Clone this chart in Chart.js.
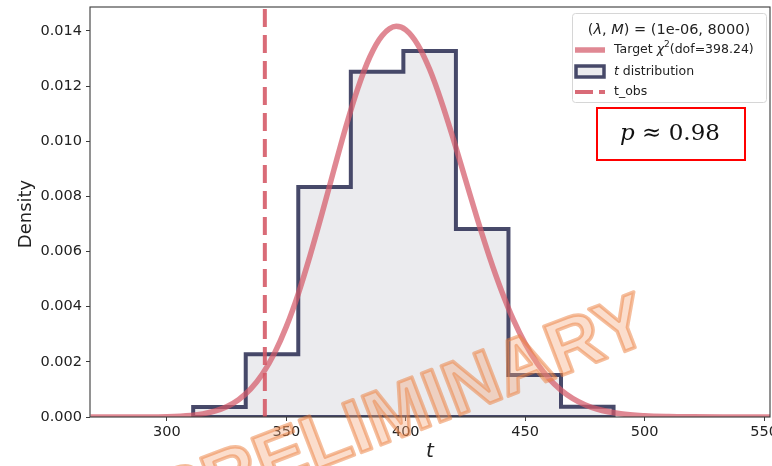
<!DOCTYPE html>
<html>
<head>
<meta charset="utf-8">
<script src="https://cdn.jsdelivr.net/npm/chart.js@4.4.1/dist/chart.umd.min.js"></script>
<style>
  html, body { margin: 0; padding: 0; background: #fff; }
  #wrap { width: 772px; height: 466px; }
</style>
</head>
<body>
<div id="wrap"><canvas id="chart" width="772" height="466"></canvas></div>
<script>
// histogram of t (density)
const binEdges = [311, 333, 355, 377, 399, 421, 443, 465, 487];
const binDensity = [0.00036, 0.00228, 0.00834, 0.01252, 0.01327, 0.00682, 0.00152, 0.00037];

// target chi2 curve, sampled by eye along the line
const curveT = [268, 280, 290, 300, 310, 315, 320, 325, 330, 335,
  340, 345, 350, 355, 360, 365, 370, 375, 380, 385,
  390, 396, 400, 405, 410, 415, 420, 425, 430, 435,
  440, 445, 450, 455, 460, 465, 470, 475, 480, 490,
  500, 510, 520, 535, 553];
const curveDensity = [0, 0.0000003, 0.000002, 0.000013, 0.000058, 0.000112, 0.000209, 0.00037, 0.000626, 0.001009,
  0.001559, 0.002308, 0.003278, 0.004469, 0.00587, 0.007395, 0.00899, 0.010548, 0.01194, 0.013066,
  0.01382, 0.01417, 0.01404, 0.013508, 0.01261, 0.011424, 0.01006, 0.008613, 0.00717, 0.005817,
  0.0046, 0.003538, 0.00266, 0.001948, 0.00139, 0.000974, 0.000666, 0.000445, 0.00029, 0.000116,
  0.000043, 0.0000146, 0.0000046, 0.0000008, 0];

const tObs = 341;
const pValue = '0.98';

const xTicks = [300, 350, 400, 450, 500, 550];
const yTicks = [0, 0.002, 0.004, 0.006, 0.008, 0.010, 0.012, 0.014];
const xLim = [267.8, 552.5];
const yLim = [0, 0.01487];

const RED = 'rgba(212,90,106,0.72)';
const RED_DASH = 'rgba(212,86,100,0.88)';
const NAVY = 'rgba(40,42,80,0.85)';
const HIST_FILL = '#ebebee';
const FONT = '"DejaVu Sans", sans-serif';

// step outline of the histogram (open: used for the fill)
const histStep = [{ x: binEdges[0], y: 0 }];
binDensity.forEach((h, i) => {
  histStep.push({ x: binEdges[i], y: h }, { x: binEdges[i + 1], y: h });
});
histStep.push({ x: binEdges[binEdges.length - 1], y: 0 });
// closed along the bottom for the edge line
const histEdge = histStep.concat([{ x: binEdges[0], y: 0 }]);

const curvePoints = curveT.map((t, i) => ({ x: t, y: curveDensity[i] }));
const obsLine = [{ x: tObs, y: yLim[0] }, { x: tObs, y: yLim[1] }];

// draw a run of text pieces with their own fonts
function drawParts(ctx, parts, x, y, align) {
  let total = 0;
  parts.forEach(p => { ctx.font = p.font; total += ctx.measureText(p.t).width; });
  let cx = align === 'center' ? x - total / 2 : x;
  ctx.textAlign = 'left';
  parts.forEach(p => {
    ctx.font = p.font;
    ctx.fillText(p.t, cx, y + (p.dy || 0));
    cx += ctx.measureText(p.t).width;
  });
}

const frame = {
  id: 'frame',
  afterDatasetsDraw(chart) {
    const { ctx, chartArea: a } = chart;
    ctx.save();
    ctx.strokeStyle = '#3a3a3a';
    ctx.lineWidth = 1.1;
    ctx.strokeRect(a.left, a.top, a.right - a.left, a.bottom - a.top);
    ctx.restore();
  },
  afterDraw(chart) {
    const { ctx } = chart;
    ctx.save();
    ctx.fillStyle = '#222';
    ctx.textBaseline = 'middle';

    // axis titles
    ctx.save();
    ctx.translate(26, 214);
    ctx.rotate(-Math.PI / 2);
    ctx.font = '18px ' + FONT;
    ctx.textAlign = 'center';
    ctx.fillText('Density', 0, 0);
    ctx.restore();
    ctx.font = 'italic 20px ' + FONT;
    ctx.textAlign = 'center';
    ctx.fillText('t', 430, 452);

    // legend
    ctx.beginPath();
    ctx.roundRect(572.5, 13.5, 194, 89, 3);
    ctx.fillStyle = 'rgba(255,255,255,0.85)';
    ctx.fill();
    ctx.strokeStyle = '#d6d6d6';
    ctx.lineWidth = 1;
    ctx.stroke();

    ctx.fillStyle = '#222';
    const n = '14.5px ' + FONT, it = 'italic 14.5px ' + FONT;
    drawParts(ctx, [
      { t: '(', font: n }, { t: 'λ', font: it }, { t: ', ', font: n },
      { t: 'M', font: it }, { t: ') = (1e-06, 8000)', font: n }
    ], 669, 30, 'center');

    ctx.strokeStyle = RED;
    ctx.lineWidth = 5.5;
    ctx.beginPath(); ctx.moveTo(575, 50); ctx.lineTo(605, 50); ctx.stroke();
    const s = '12.5px ' + FONT, si = 'italic 12.5px ' + FONT;
    drawParts(ctx, [
      { t: 'Target ', font: s }, { t: 'χ', font: si },
      { t: '2', font: '9px ' + FONT, dy: -5 }, { t: '(dof=398.24)', font: s }
    ], 614, 50, 'left');

    ctx.fillStyle = HIST_FILL;
    ctx.fillRect(576, 66, 28, 11);
    ctx.strokeStyle = NAVY;
    ctx.lineWidth = 3.5;
    ctx.strokeRect(576, 66, 28, 11);
    ctx.fillStyle = '#222';
    drawParts(ctx, [{ t: 't', font: si }, { t: ' distribution', font: s }], 614, 72, 'left');

    ctx.strokeStyle = RED_DASH;
    ctx.lineWidth = 4;
    ctx.setLineDash([18, 6]);
    ctx.beginPath(); ctx.moveTo(575, 92); ctx.lineTo(605, 92); ctx.stroke();
    ctx.setLineDash([]);
    drawParts(ctx, [{ t: 't_obs', font: s }], 614, 92, 'left');

    // p-value box
    ctx.fillStyle = '#fff';
    ctx.fillRect(597, 108, 148, 52);
    ctx.strokeStyle = '#ff0000';
    ctx.lineWidth = 2;
    ctx.strokeRect(597, 108, 148, 52);
    ctx.fillStyle = '#111';
    drawParts(ctx, [
      { t: 'p', font: 'italic 23px "DejaVu Serif", serif' },
      { t: ' ≈ ' + pValue, font: '23px "DejaVu Serif", serif' }
    ], 670, 134, 'center');

    // watermark
    ctx.translate(403, 414);
    ctx.rotate(-21 * Math.PI / 180);
    ctx.font = 'bold 76px "Liberation Sans", sans-serif';
    ctx.textAlign = 'center';
    ctx.lineJoin = 'round';
    ctx.fillStyle = 'rgba(245,165,120,0.38)';
    ctx.fillText('PRELIMINARY', 0, 0);
    ctx.lineWidth = 3.5;
    ctx.strokeStyle = 'rgba(236,125,60,0.5)';
    ctx.strokeText('PRELIMINARY', 0, 0);
    ctx.restore();
  }
};

new Chart(document.getElementById('chart'), {
  type: 'scatter',
  data: {
    datasets: [
      {
        label: 't_obs',
        data: obsLine,
        showLine: true,
        borderColor: RED_DASH,
        borderWidth: 4,
        borderDash: [18, 8],
        pointRadius: 0,
        order: 0
      },
      {
        label: 'Target chi2',
        data: curvePoints,
        showLine: true,
        borderColor: RED,
        borderWidth: 5.5,
        cubicInterpolationMode: 'monotone',
        pointRadius: 0,
        order: 1
      },
      {
        label: 't distribution',
        data: histEdge,
        showLine: true,
        borderColor: NAVY,
        borderWidth: 4,
        borderJoinStyle: 'miter',
        fill: false,
        tension: 0,
        pointRadius: 0,
        order: 2
      },
      {
        label: 'hist fill',
        data: histStep,
        showLine: true,
        borderWidth: 0,
        borderColor: 'rgba(0,0,0,0)',
        backgroundColor: HIST_FILL,
        fill: 'origin',
        tension: 0,
        pointRadius: 0,
        order: 3
      }
    ]
  },
  options: {
    responsive: false,
    animation: false,
    devicePixelRatio: 1,
    layout: { padding: { top: 7, right: 2, left: 0, bottom: 0 } },
    plugins: { legend: { display: false }, tooltip: { enabled: false } },
    scales: {
      x: {
        type: 'linear',
        min: xLim[0],
        max: xLim[1],
        afterBuildTicks: s => { s.ticks = xTicks.map(v => ({ value: v })); },
        afterFit: s => { s.height = 49; s.paddingLeft = 0; s.paddingRight = 0; },
        border: { display: false },
        grid: { drawOnChartArea: false, tickLength: 4, color: '#3a3a3a' },
        ticks: { autoSkip: false, maxRotation: 0, padding: 3, color: '#222', font: { family: FONT, size: 14.5 } }
      },
      y: {
        type: 'linear',
        min: yLim[0],
        max: yLim[1],
        afterBuildTicks: s => { s.ticks = yTicks.map(v => ({ value: v })); },
        afterFit: s => { s.width = 90; s.paddingTop = 0; s.paddingBottom = 0; },
        border: { display: false },
        grid: { drawOnChartArea: false, tickLength: 4, color: '#3a3a3a' },
        ticks: { padding: 4, color: '#222', font: { family: FONT, size: 14.5 }, callback: v => v.toFixed(3) }
      }
    }
  },
  plugins: [frame]
});
</script>
</body>
</html>
